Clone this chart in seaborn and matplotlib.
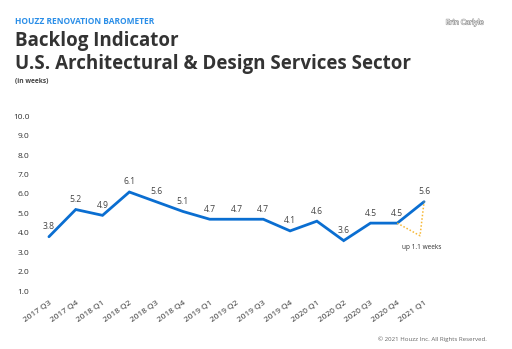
import matplotlib
matplotlib.use("Agg")
import matplotlib.pyplot as plt
import matplotlib.patheffects as pe
import seaborn as sns
import pandas as pd

quarters = ["2017 Q3", "2017 Q4", "2018 Q1", "2018 Q2", "2018 Q3", "2018 Q4",
            "2019 Q1", "2019 Q2", "2019 Q3", "2019 Q4", "2020 Q1", "2020 Q2",
            "2020 Q3", "2020 Q4", "2021 Q1"]
backlog_weeks = [3.8, 5.2, 4.9, 6.1, 5.6, 5.1, 4.7, 4.7, 4.7, 4.1, 4.6, 3.6,
                 4.5, 4.5, 5.6]
y_ticks = [1.0, 2.0, 3.0, 4.0, 5.0, 6.0, 7.0, 8.0, 9.0, 10.0]
change_note = "up 1.1 weeks"

df = pd.DataFrame({"idx": range(len(quarters)), "quarter": quarters,
                   "weeks": backlog_weeks})

sns.set_theme(style="white")
plt.rcParams["font.family"] = ["Open Sans", "DejaVu Sans"]

W, H = 512, 349
fig = plt.figure(figsize=(W / 100, H / 100), dpi=100)
fig.patch.set_facecolor("white")

left, right, top, bottom = 35, 438, 112.3, 297
ax = fig.add_axes([left / W, 1 - bottom / H, (right - left) / W, (bottom - top) / H])

blue = "#0a6ed1"
sns.lineplot(data=df, x="idx", y="weeks", ax=ax, color=blue, lw=2.0,
             solid_joinstyle="miter")

for i, v in zip(df["idx"], df["weeks"]):
    ax.annotate(f"{v:.1f}", (i, v), xytext=(0, 4), textcoords="offset points",
                ha="center", va="bottom", fontsize=6.2, color="#444444")

# dotted callout for the latest quarter's change
n = len(quarters)
ax.plot([n - 2, n - 1.15, n - 1], [backlog_weeks[-2], 3.85, backlog_weeks[-1]],
        color="#f7b733", lw=1.1, ls=(0, (1, 1.3)))
ax.text(n - 1.1, 3.45, change_note, ha="center", va="top", fontsize=4.7,
        color="#333333")

ax.set_xlim(-0.52, n - 1 + 0.52)
ax.set_ylim(0.7, 10.2)
ax.set_yticks(y_ticks)
ax.set_yticklabels([f"{t:.1f}" for t in y_ticks])
ax.set_xticks(range(n))
ax.set_xticklabels(quarters, rotation=35, ha="right", rotation_mode="anchor")
ax.tick_params(axis="both", length=0, labelsize=6.0, labelcolor="#333333")
ax.tick_params(axis="y", pad=4)
ax.tick_params(axis="x", pad=2)
ax.set_xlabel("")
ax.set_ylabel("")
sns.despine(ax=ax, left=True, bottom=True)

fig.text(15 / W, 1 - 21 / H, "HOUZZ RENOVATION BAROMETER", fontsize=6.0,
         fontweight="bold", color="#2a8ee8", va="center", ha="left")
fig.text(15 / W, 1 - 41 / H, "Backlog Indicator", fontsize=13.5, fontweight="bold",
         color="#333333", va="center", ha="left")
fig.text(15 / W, 1 - 64.5 / H, "U.S. Architectural & Design Services Sector",
         fontsize=13.5, fontweight="bold", color="#333333", va="center", ha="left")
fig.text(15 / W, 1 - 82 / H, "(in weeks)", fontsize=4.8, fontweight="bold",
         color="#444444", va="center", ha="left")
fig.text(465 / W, 1 - 23 / H, "Erin Carlyle", fontsize=5.2, color="white",
         va="center", ha="center",
         path_effects=[pe.withStroke(linewidth=0.8, foreground="#9a9a9a")])
fig.text(487 / W, 1 - 339 / H, "\u00a9 2021 Houzz Inc. All Rights Reserved.",
         fontsize=4.4, color="#666666", va="center", ha="right")

fig.savefig("out.png", dpi=100, facecolor="white")
